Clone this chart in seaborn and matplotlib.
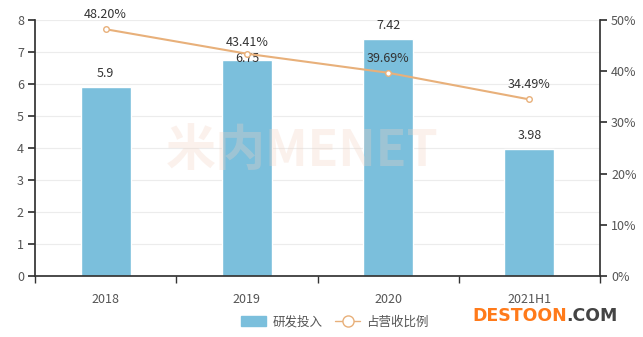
import matplotlib
matplotlib.use("Agg")
import matplotlib.pyplot as plt
import seaborn as sns
import pandas as pd
import numpy as np
from matplotlib.lines import Line2D
from matplotlib.patches import Patch

categories = ["2018", "2019", "2020", "2021H1"]
rd_invest = [5.9, 6.75, 7.42, 3.98]
ratio = [48.20, 43.41, 39.69, 34.49]
left_ticks = [0, 1, 2, 3, 4, 5, 6, 7, 8]
right_ticks = [0, 10, 20, 30, 40, 50]

sns.set_theme(style="white")
plt.rcParams['font.family'] = ['Noto Sans CJK SC', 'DejaVu Sans']

bar_color = "#7bbfdc"
line_color = "#e8b07a"
text_color = "#333333"
axis_color = "#333333"

fig = plt.figure(figsize=(6.43, 3.37), dpi=100)
ax = fig.add_axes([35/643, 1-276/337, 565/643, 256/337])

df = pd.DataFrame({"cat": categories, "val": rd_invest})
sns.barplot(data=df, x="cat", y="val", color=bar_color, width=0.355, ax=ax,
            saturation=1, zorder=2)
ax.set_xlim(-0.5, 3.5)
ax.set_ylim(0, 8)
ax.set_yticks(left_ticks)
ax.set_xlabel("")
ax.set_ylabel("")
ax.grid(axis="y", color="#ececec", linewidth=0.8, zorder=0)
ax.set_axisbelow(True)
for s in ["top", "right"]:
    ax.spines[s].set_visible(False)
ax.spines["left"].set_color(axis_color)
ax.spines["bottom"].set_color(axis_color)
ax.tick_params(axis="y", left=True, length=5, color=axis_color, labelsize=9,
               labelcolor="#555555", pad=3)
ax.set_xticks(range(len(categories)))
ax.set_xticklabels(categories)
ax.tick_params(axis="x", bottom=False, labelsize=9, labelcolor="#555555", pad=6)
ax.set_xticks([-0.5, 0.5, 1.5, 2.5, 3.5], minor=True)
ax.tick_params(axis="x", which="minor", bottom=True, length=5, color=axis_color)

# line value positions in left-axis units, to avoid label collisions like the original
ratio_in_left = [r * 8 / 50 for r in ratio]

for i, v in enumerate(rd_invest):
    y = v + 0.22
    va = "bottom"
    if abs(ratio_in_left[i] - v) < 0.6 and ratio_in_left[i] > v:
        y = v + 0.05
        va = "center"
    ax.text(i, y, f"{v:g}", ha="center", va=va, fontsize=9,
            color=text_color, zorder=5)

ax2 = ax.twinx()
ax2.set_ylim(0, 50)
ax2.set_yticks(right_ticks)
ax2.set_yticklabels([f"{t}%" for t in right_ticks])
ldf = pd.DataFrame({"x": np.arange(len(categories)), "r": ratio})
sns.lineplot(data=ldf, x="x", y="r", ax=ax2, color=line_color, linewidth=1.5,
             marker="o", markersize=4, markerfacecolor="white",
             markeredgecolor=line_color, markeredgewidth=1, zorder=4)
ax2.set_xlim(-0.5, 3.5)
ax2.set_xlabel("")
ax2.set_ylabel("")
for s in ["top", "left", "bottom"]:
    ax2.spines[s].set_visible(False)
ax2.spines["right"].set_color(axis_color)
ax2.tick_params(axis="y", right=True, length=5, color=axis_color, labelsize=9,
                labelcolor="#555555", pad=3)
ax2.grid(False)
for i, r in enumerate(ratio):
    off = 1.6
    if abs(ratio_in_left[i] - rd_invest[i]) < 0.6:
        off = 0.9
    ax2.text(i, r + off, f"{r:.2f}%", ha="center", va="bottom", fontsize=9,
             color=text_color, zorder=6)

# faint watermark
fig.text(0.47, 0.55, "米内MENET", ha="center", va="center", fontsize=36,
         color="#f2d2c2", alpha=0.3, fontweight="bold", zorder=0)

handles = [Patch(facecolor=bar_color, edgecolor=bar_color),
           Line2D([0], [0], color=line_color, marker="o", markersize=8,
                  markerfacecolor="white", markeredgecolor=line_color, linewidth=1)]
fig.legend(handles, ["研发投入", "占营收比例"], loc="center", ncol=2,
           bbox_to_anchor=(335/643, 1-322/337), frameon=False, fontsize=9,
           handlelength=2, handleheight=0.9, columnspacing=1.0, handletextpad=0.5,
           labelcolor="#555555")

t1 = fig.text(472/643, 1-316/337, "DESTOON", ha="left", va="center", fontsize=12.5,
              fontweight="bold", color="#ff7a1a", family="DejaVu Sans")
fig.canvas.draw()
bb = t1.get_window_extent()
fig.text(bb.x1 / fig.bbox.width, 1-316/337, ".COM", ha="left", va="center",
         fontsize=12.5, fontweight="bold", color="#444444", family="DejaVu Sans")

fig.savefig("out.png", dpi=100)
